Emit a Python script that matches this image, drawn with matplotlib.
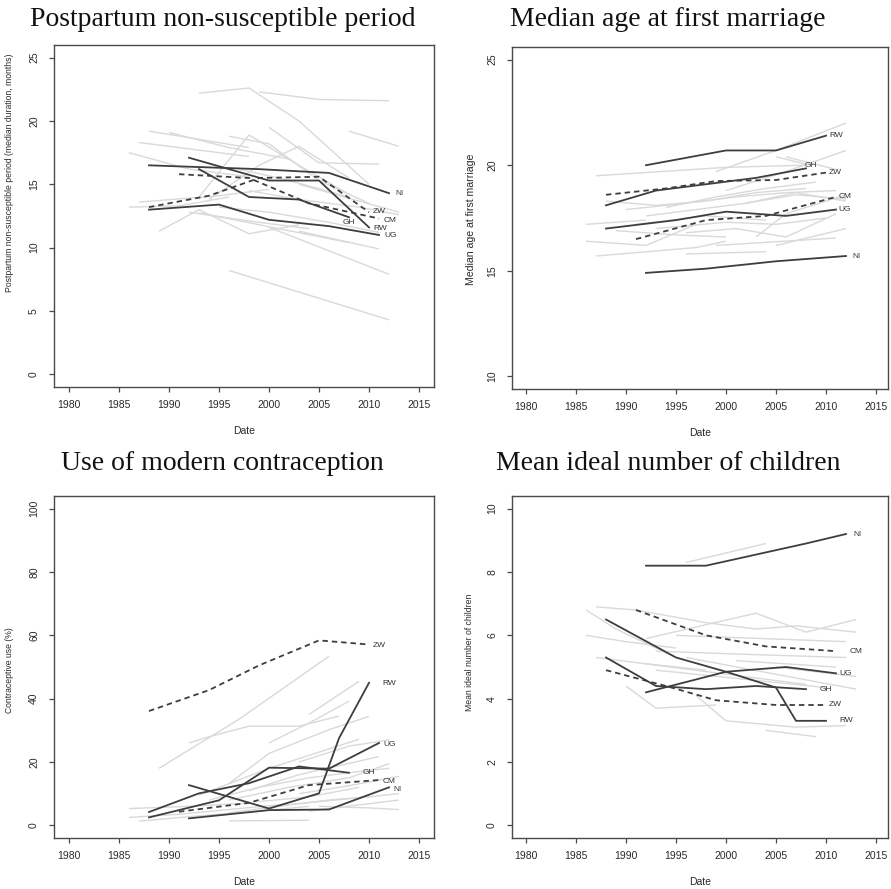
import matplotlib
matplotlib.use("Agg")
import matplotlib.pyplot as plt

# ---------------- data ----------------
# Panel 1: Postpartum non-susceptible period (months)
pps_bg_years = [
    [1993, 1998, 2003, 2010], [1999, 2005, 2012], [2008, 2013], [1988, 1998],
    [1990, 1996, 2002], [1987, 1998], [1986, 1992, 1998], [2000, 2005, 2011],
    [1993, 1998, 2003, 2008], [1996, 2000, 2005, 2010], [1994, 1999, 2003, 2008],
    [1989, 1993, 1998, 2003], [1986, 1991, 1996], [1987, 1995, 2000], [1993, 2008],
    [2000, 2012], [1996, 2012], [2003, 2011], [1998, 2003, 2009, 2013],
    [1997, 2002, 2008], [2003, 2008, 2013], [1995, 2000, 2006, 2011], [1992, 1999, 2004],
]
pps_bg_vals = [
    [22.2, 22.6, 20.0, 15.0], [22.3, 21.7, 21.6], [19.2, 18.0], [19.2, 17.9],
    [19.1, 17.9, 17.0], [18.3, 17.2], [17.5, 16.2, 15.6], [19.5, 16.7, 16.6],
    [14.0, 18.9, 16.5, 14.2], [18.8, 18.2, 15.3, 13.5], [13.8, 16.5, 18.0, 15.5],
    [11.3, 13.0, 11.1, 11.8], [13.2, 13.3, 14.0], [13.6, 14.1, 14.6], [12.75, 10.4],
    [11.6, 7.9], [8.2, 4.3], [11.3, 9.9], [14.5, 13.8, 13.2, 12.6],
    [16.2, 15.3, 14.0], [15.0, 13.9, 12.8], [13.2, 12.8, 12.0, 11.2], [12.8, 12.0, 11.5],
]
pps_hl_codes = ["NI", "RW", "GH", "UG", "ZW", "CM"]
pps_hl_years = [
    [1988, 1999, 2006, 2012], [1992, 2000, 2005, 2010], [1993, 1998, 2003, 2008],
    [1988, 1995, 2000, 2006, 2011], [1988, 1994, 1999, 2005, 2010], [1991, 1998, 2004, 2011],
]
pps_hl_vals = [
    [16.5, 16.2, 15.9, 14.3], [17.1, 15.3, 15.3, 11.6], [16.2, 14.0, 13.8, 12.4],
    [13.0, 13.4, 12.2, 11.7, 11.0], [13.2, 14.1, 15.5, 15.6, 12.8], [15.8, 15.5, 13.5, 12.3],
]

# Panel 2: Median age at first marriage
afm_bg_years = [
    [1987, 2000, 2008], [1999, 2005, 2012], [2000, 2006, 2012], [2005, 2008],
    [1986, 1992], [1986, 1992, 1997], [1987, 1992, 1997, 2000], [1996, 2004],
    [1999, 2011], [2003, 2006, 2012], [2005, 2012], [1988, 1993, 1998, 2003, 2008],
    [1990, 1996, 2001, 2006, 2011], [1992, 1997, 2002, 2007, 2012], [1991, 1998, 2004],
    [1993, 2000, 2005, 2010], [1994, 1999, 2004, 2009], [1996, 2001, 2006, 2011],
    [2002, 2007, 2012], [1989, 1995, 2000], [2006, 2011],
]
afm_bg_vals = [
    [19.5, 19.9, 20.0], [19.7, 20.7, 22.0], [18.8, 19.7, 20.7], [20.4, 20.05],
    [17.2, 17.4], [16.4, 16.2, 17.2], [15.7, 15.9, 16.1, 16.4], [15.8, 15.9],
    [16.2, 16.55], [16.6, 17.7, 18.6], [16.2, 17.0], [18.3, 18.1, 18.3, 18.7, 18.9],
    [17.9, 18.2, 18.5, 18.7, 18.8], [17.6, 17.9, 18.2, 18.6, 18.4], [17.2, 17.6, 17.4],
    [17.0, 17.3, 17.2, 17.5], [18.0, 18.5, 18.9, 19.2], [16.8, 17.0, 16.6, 17.7],
    [18.2, 18.7, 18.3], [16.9, 16.7, 16.6], [20.4, 19.8],
]
afm_hl_codes = ["RW", "GH", "ZW", "CM", "UG", "NI"]
afm_hl_years = [
    [1992, 2000, 2005, 2010], [1988, 1993, 1998, 2003, 2008], [1988, 1994, 1999, 2005, 2010],
    [1991, 1998, 2004, 2011], [1988, 1995, 2000, 2006, 2011], [1992, 1998, 2005, 2012],
]
afm_hl_vals = [
    [20.0, 20.7, 20.7, 21.4], [18.1, 18.8, 19.1, 19.4, 19.85], [18.6, 18.9, 19.25, 19.3, 19.65],
    [16.5, 17.4, 17.6, 18.5], [17.0, 17.4, 17.8, 17.6, 17.9], [14.9, 15.1, 15.45, 15.7],
]

# Panel 3: Use of modern contraception (%)
cu_bg_years = [
    [1989, 1997, 2006], [1992, 1994, 1998, 2003, 2007], [2004, 2009], [2000, 2004, 2008],
    [1996, 2000, 2006, 2010], [1993, 2000, 2009], [1998, 2003, 2011], [1996, 2002, 2008, 2012],
    [1986, 1992, 1998], [1986, 1991, 1996, 2001], [1987, 1993, 1999, 2004], [1996, 2004],
    [2000, 2005, 2010, 2013], [2003, 2008, 2013], [1999, 2004, 2009], [2005, 2010, 2013],
    [1994, 1999, 2004, 2009, 2012], [2003, 2008, 2012], [1996, 2001, 2006, 2010], [2004, 2013],
]
cu_bg_vals = [
    [18.0, 33.5, 53.4], [26.0, 28.0, 31.3, 31.3, 34.5], [35.0, 45.5], [26.0, 32.3, 39.2],
    [13.2, 22.7, 30.2, 34.4], [9.5, 18.0, 27.2], [11.0, 16.0, 21.7], [8.0, 12.0, 15.0, 19.5],
    [5.3, 6.0, 7.0], [2.5, 3.5, 5.0, 6.5], [1.3, 3.0, 4.5, 6.0], [1.4, 1.6],
    [6.0, 7.5, 9.0, 10.0], [10.0, 12.5, 15.5], [7.5, 9.0, 12.0], [6.0, 5.5, 5.0],
    [8.0, 12.0, 15.0, 17.0, 18.0], [20.0, 25.0, 27.0], [4.0, 6.0, 8.0, 9.0], [4.5, 8.0],
]
cu_hl_codes = ["ZW", "RW", "UG", "GH", "CM", "NI"]
cu_hl_years = [
    [1988, 1994, 1999, 2005, 2010], [1992, 2000, 2005, 2007, 2010], [1988, 1995, 2000, 2006, 2011],
    [1988, 1993, 1998, 2003, 2008], [1991, 1998, 2004, 2011], [1992, 2000, 2006, 2012],
]
cu_hl_vals = [
    [36.1, 42.7, 50.5, 58.4, 57.1], [12.7, 5.3, 10.1, 27.5, 45.0], [2.5, 7.9, 18.2, 17.9, 26.0],
    [4.2, 10.1, 13.3, 18.6, 16.6], [4.3, 7.1, 12.7, 14.3], [2.2, 4.8, 5.0, 12.0],
]

# Panel 4: Mean ideal number of children
inc_bg_years = [
    [1996, 2004], [1987, 1991, 1998, 2003, 2007, 2013], [1986, 1989, 1995], [1986, 1990, 1995],
    [1992, 2003, 2008, 2013], [1995, 2012], [1993, 2002, 2012], [1987, 1992, 1998],
    [1990, 1993, 1999], [1997, 2000, 2007, 2012], [2004, 2009], [1992, 2008],
    [1996, 2013], [2001, 2011], [2005, 2013], [1993, 2010],
]
inc_bg_vals = [
    [8.3, 8.9], [6.9, 6.8, 6.4, 6.2, 6.3, 6.1], [6.8, 6.2, 5.3], [6.0, 5.8, 5.6],
    [5.9, 6.7, 6.1, 6.5], [6.0, 5.8], [5.5, 5.4, 5.3], [5.3, 5.1, 4.9],
    [4.4, 3.7, 3.8], [4.1, 3.3, 3.1, 3.15], [3.0, 2.8], [5.1, 4.45],
    [5.3, 4.3], [5.2, 5.0], [5.0, 4.7], [4.9, 4.35],
]
inc_hl_codes = ["NI", "CM", "UG", "GH", "ZW", "RW"]
inc_hl_years = [
    [1992, 1998, 2003, 2008, 2012], [1991, 1998, 2004, 2011], [1988, 1995, 2000, 2006, 2011],
    [1988, 1993, 1998, 2003, 2008], [1988, 1994, 1999, 2005, 2010], [1992, 2000, 2005, 2007, 2010],
]
inc_hl_vals = [
    [8.2, 8.2, 8.55, 8.9, 9.2], [6.8, 6.0, 5.65, 5.5], [6.5, 5.3, 4.85, 5.0, 4.8],
    [5.3, 4.4, 4.3, 4.4, 4.3], [4.9, 4.4, 3.95, 3.8, 3.8], [4.2, 4.85, 4.35, 3.3, 3.3],
]

dashed_codes = ["ZW", "CM"]
x_ticks = [1980, 1985, 1990, 1995, 2000, 2005, 2010, 2015]

# ---------------- style / layout ----------------
W, H = 891, 889
fig = plt.figure(figsize=(W / 100, H / 100), dpi=100)

def rect(l, t, r, b):
    return [l / W, 1 - b / H, (r - l) / W, (b - t) / H]

GREY = "#d9d9d9"
DARK = "#3e3e3e"
AXC = "#4a4a4a"
SANS = "Liberation Sans"
SERIF = "Liberation Serif"

# label offsets (dx years, dy units) relative to last point of each highlighted line
pps_lab_off = {"NI": (0.6, 0), "RW": (0.4, -0.05), "GH": (-0.6, -0.4), "UG": (0.5, -0.05),
               "ZW": (0.4, 0.05), "CM": (0.5, -0.15)}
afm_lab_off = {"RW": (0.3, 0), "GH": (-0.1, 0.15), "ZW": (0.3, 0), "CM": (0.3, 0),
               "UG": (0.2, 0), "NI": (0.6, 0)}
cu_lab_off = {"ZW": (0.4, -0.3), "RW": (1.3, -0.2), "UG": (0.4, -0.5), "GH": (1.4, 0),
              "CM": (0.4, -0.5), "NI": (0.4, -0.6)}
inc_lab_off = {"NI": (0.7, 0), "CM": (1.4, 0), "UG": (0.3, 0), "GH": (1.4, 0),
               "ZW": (0.3, 0), "RW": (1.3, 0)}

panels = [
    dict(r=rect(54, 45, 434, 387), xlim=(1978.5, 2016.5), ylim=(-1, 26), yt=[0, 5, 10, 15, 20, 25],
         ylabel="Postpartum non-susceptible period (median duration, months)", ylc=(-0.118, 0.626),
         ylfs=6.2,
         bgy=pps_bg_years, bgv=pps_bg_vals, codes=pps_hl_codes, hy=pps_hl_years, hv=pps_hl_vals,
         off=pps_lab_off, title="Postpartum non-susceptible period", tpos=(0.25, 1 - 19 / H)),
    dict(r=rect(512, 47, 888, 389), xlim=(1978.6, 2016.2), ylim=(9.4, 25.6), yt=[10, 15, 20, 25],
         ylabel="Median age at first marriage", ylc=(-0.108, 0.497), ylfs=7.6,
         bgy=afm_bg_years, bgv=afm_bg_vals, codes=afm_hl_codes, hy=afm_hl_years, hv=afm_hl_vals,
         off=afm_lab_off, title="Median age at first marriage", tpos=(0.75, 1 - 19 / H)),
    dict(r=rect(54, 496, 434, 838), xlim=(1978.5, 2016.5), ylim=(-4, 104), yt=[0, 20, 40, 60, 80, 100],
         ylabel="Contraceptive use (%)", ylc=(-0.118, 0.49), ylfs=6.2,
         bgy=cu_bg_years, bgv=cu_bg_vals, codes=cu_hl_codes, hy=cu_hl_years, hv=cu_hl_vals,
         off=cu_lab_off, title="Use of modern contraception", tpos=(0.25, 1 - 463 / H)),
    dict(r=rect(512, 496, 888, 838), xlim=(1978.6, 2016.2), ylim=(-0.4, 10.4), yt=[0, 2, 4, 6, 8, 10],
         ylabel="Mean ideal number of children", ylc=(-0.114, 0.542), ylfs=6.2,
         bgy=inc_bg_years, bgv=inc_bg_vals, codes=inc_hl_codes, hy=inc_hl_years, hv=inc_hl_vals,
         off=inc_lab_off, title="Mean ideal number of children", tpos=(0.75, 1 - 463 / H)),
]

for p in panels:
    ax = fig.add_axes(p["r"])
    for xs, ys in zip(p["bgy"], p["bgv"]):
        ax.plot(xs, ys, color=GREY, lw=1.0, solid_capstyle="butt", zorder=1)
    for code, xs, ys in zip(p["codes"], p["hy"], p["hv"]):
        if code in dashed_codes:
            ax.plot(xs, ys, color=DARK, lw=1.3, ls=(0, (3, 2.2)), zorder=3)
        else:
            ax.plot(xs, ys, color=DARK, lw=1.3, zorder=3)
        dx, dy = p["off"][code]
        ax.text(xs[-1] + dx, ys[-1] + dy, code, fontsize=6, family=SANS, color="#333333",
                ha="left", va="center", zorder=4)
    ax.set_xlim(*p["xlim"])
    ax.set_ylim(*p["ylim"])
    ax.set_xticks(x_ticks)
    ax.set_yticks(p["yt"])
    ax.set_yticklabels([str(v) for v in p["yt"]], rotation=90, va="center")
    for s in ax.spines.values():
        s.set_color(AXC)
        s.set_linewidth(1.0)
    ax.tick_params(axis="both", direction="out", length=3.8, width=0.9, color=AXC,
                   labelsize=7.5, labelcolor="#2a2a2a")
    ax.tick_params(axis="x", pad=5.5)
    ax.tick_params(axis="y", pad=7)
    for lab in ax.get_xticklabels() + ax.get_yticklabels():
        lab.set_family(SANS)
    ax.set_xlabel("Date", fontsize=7.5, family=SANS, color="#2a2a2a")
    ax.xaxis.set_label_coords(0.5, -0.129)
    ax.xaxis.label.set_va("center")
    ax.set_ylabel(p["ylabel"], fontsize=p["ylfs"], family=SANS, color="#2a2a2a")
    ax.yaxis.set_label_coords(*p["ylc"])
    ax.yaxis.label.set_va("center")
    fig.text(p["tpos"][0], p["tpos"][1], p["title"], fontsize=20, family=SERIF,
             ha="center", va="center", color="#111111")

fig.savefig("out.png", dpi=100)
